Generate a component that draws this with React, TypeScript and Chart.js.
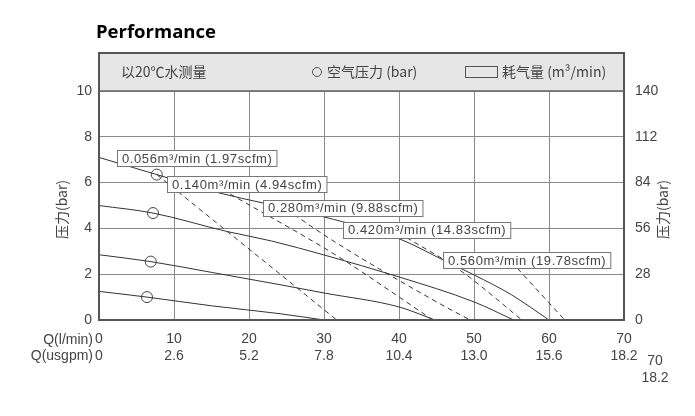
import React, { useEffect, useRef } from 'react';
import { Chart, registerables } from 'chart.js';

Chart.register(...registerables);

const FONT = '"Liberation Sans", Arial, sans-serif';
const CJK = '"Noto Sans CJK SC", "Liberation Sans", sans-serif';

// ---- axes ----
const flowLpmTicks = [0, 10, 20, 30, 40, 50, 60, 70];
const flowUsgpmTicks = ['0', '2.6', '5.2', '7.8', '10.4', '13.0', '15.6', '18.2'];
const pressureMax = 10;
const pressureStep = 2;
const headMax = 140;
const headStep = 28;

// ---- solid curves: discharge pressure at constant air pressure (x = l/min, y = bar) ----
const curveAir1 = [[0, 7.1], [7.7, 6.35], [16, 5.55], [22, 5.1], [30, 4.5], [40, 3.55], [45.9, 2.62], [50, 1.97], [55, 1.1], [60, 0]];
const curveAir2 = [[0, 5.0], [7.2, 4.67], [17, 3.87], [23, 3.45], [30, 2.84], [40, 1.88], [50, 0.79], [55.3, 0]];
const curveAir3 = [[0, 2.85], [6.9, 2.55], [15, 2.08], [24, 1.55], [30, 1.18], [40, 0.57], [44.8, 0]];
const curveAir4 = [[0, 1.25], [6.4, 1.0], [15, 0.62], [24, 0.28], [30, 0]];

// ---- air pressure markers (circles) ----
const airMarkers = [[7.7, 6.35], [7.2, 4.67], [6.9, 2.55], [6.4, 1.0]];

// ---- dashed curves: constant air consumption ----
const consumption056 = [[7.7, 6.35], [20, 3.1], [31.7, 0]];
const consumption140 = [[17.5, 5.5], [32, 2.75], [38, 1.45], [44.5, 0]];
const consumption280 = [[26, 4.6], [31.5, 3.4], [45.5, 0.7], [49.5, 0]];
const consumption420 = [[41, 3.6], [48.1, 2.18], [56.4, 0]];
const consumption560 = [[55.8, 2.25], [62.1, 0]];

// ---- consumption labels ----
const consumptionLabels = [
  '0.056m³/min (1.97scfm)',
  '0.140m³/min (4.94scfm)',
  '0.280m³/min (9.88scfm)',
  '0.420m³/min (14.83scfm)',
  '0.560m³/min (19.78scfm)',
];
const consumptionLabelAnchors = [[2.4, 7.07], [9.1, 5.94], [21.9, 4.91], [32.5, 3.95], [45.9, 2.6]];

const toPts = (arr: number[][]) => arr.map(([x, y]) => ({ x, y }));

const solid = (data: number[][]) => ({
  data: toPts(data),
  showLine: true,
  borderColor: '#333',
  borderWidth: 1,
  pointRadius: 0,
  cubicInterpolationMode: 'monotone',
  yAxisID: 'y',
});
const dashed = (data: number[][]) => ({
  data: toPts(data),
  showLine: true,
  borderColor: '#333',
  borderWidth: 1,
  borderDash: [5, 4],
  pointRadius: 0,
  cubicInterpolationMode: 'monotone',
  yAxisID: 'y',
});

const HEADER_TOP = 53;

const overlay = {
  id: 'overlay',
  beforeDraw(chart: any) {
    const { ctx, chartArea: a } = chart;
    ctx.save();
    ctx.fillStyle = '#e6e6e6';
    ctx.fillRect(a.left, HEADER_TOP, a.right - a.left, a.top - HEADER_TOP);
    ctx.restore();
  },
  afterDatasetsDraw(chart: any) {
    const { ctx } = chart;
    const xs = chart.scales.x;
    const ys = chart.scales.y;
    ctx.save();
    ctx.font = `13px ${FONT}`;
    (ctx as any).letterSpacing = '0.6px';
    ctx.textBaseline = 'middle';
    ctx.textAlign = 'left';
    consumptionLabels.forEach((t, i) => {
      const [ax, ay] = consumptionLabelAnchors[i];
      const px = Math.round(xs.getPixelForValue(ax)) + 0.5;
      const py = ys.getPixelForValue(ay);
      const w = ctx.measureText(t).width + 9;
      const h = 16;
      ctx.fillStyle = '#fff';
      ctx.fillRect(px, Math.round(py - h / 2) + 0.5, w, h);
      ctx.strokeStyle = '#777';
      ctx.lineWidth = 1;
      ctx.strokeRect(px, Math.round(py - h / 2) + 0.5, w, h);
      ctx.fillStyle = '#444';
      ctx.fillText(t, px + 4.5, py + 1);
    });
    ctx.restore();
  },
  afterDraw(chart: any) {
    const { ctx, chartArea: a } = chart;
    ctx.save();
    // frame
    ctx.strokeStyle = '#555';
    ctx.lineWidth = 2;
    ctx.strokeRect(a.left, HEADER_TOP, a.right - a.left, a.bottom - HEADER_TOP);
    ctx.lineWidth = 1.5;
    ctx.strokeStyle = '#666';
    ctx.beginPath();
    ctx.moveTo(a.left, a.top);
    ctx.lineTo(a.right, a.top);
    ctx.stroke();

    // header texts
    const hy = (HEADER_TOP + a.top) / 2;
    ctx.fillStyle = '#444';
    ctx.textBaseline = 'middle';
    ctx.textAlign = 'left';
    ctx.font = `14px ${CJK}`;
    ctx.fillText('以20℃水测量', a.left + 22, hy);
    ctx.strokeStyle = '#555';
    ctx.lineWidth = 1;
    ctx.beginPath();
    ctx.arc(a.left + 218, hy, 4.5, 0, Math.PI * 2);
    ctx.stroke();
    ctx.fillText('空气压力 (bar)', a.left + 228, hy);
    ctx.strokeRect(a.left + 366.5, hy - 5.5, 32, 11);
    ctx.fillText('耗气量 (m³/min)', a.left + 403, hy);

    // axis titles
    ctx.font = `14px ${CJK}`;
    ctx.fillStyle = '#444';
    ctx.textAlign = 'center';
    const cy = (a.top + a.bottom) / 2 + 4;
    ctx.save();
    ctx.translate(62, cy);
    ctx.rotate(-Math.PI / 2);
    ctx.fillText('压力(bar)', 0, 0);
    ctx.restore();
    ctx.save();
    ctx.translate(663, cy);
    ctx.rotate(-Math.PI / 2);
    ctx.fillText('压力(bar)', 0, 0);
    ctx.restore();

    // x row captions
    ctx.font = `14px ${FONT}`;
    ctx.textAlign = 'right';
    ctx.fillText('Q(l/min)', a.left - 6, a.bottom + 20);
    ctx.fillText('Q(usgpm)', a.left - 6, a.bottom + 36);

    // stray labels at right
    ctx.textAlign = 'center';
    ctx.fillText(String(flowLpmTicks[flowLpmTicks.length - 1]), 655, a.bottom + 41);
    ctx.fillText(flowUsgpmTicks[flowUsgpmTicks.length - 1], 655, a.bottom + 58);

    // title
    ctx.textAlign = 'left';
    ctx.fillStyle = '#000';
    ctx.font = `bold 18.5px "Open Sans", ${FONT}`;
    ctx.fillText('Performance', 96, 33);
    ctx.restore();
  },
};

export default function App() {
  const ref = useRef<HTMLCanvasElement | null>(null);
  useEffect(() => {
    if (!ref.current) return;
    const chart = new Chart(ref.current, {
      type: 'scatter',
      data: {
        datasets: [
          solid(curveAir1),
          solid(curveAir2),
          solid(curveAir3),
          solid(curveAir4),
          dashed(consumption056),
          dashed(consumption140),
          dashed(consumption280),
          dashed(consumption420),
          dashed(consumption560),
          {
            data: toPts(airMarkers),
            showLine: false,
            pointRadius: 5.5,
            pointBackgroundColor: '#fff',
            pointBorderColor: '#444',
            pointBorderWidth: 1,
            yAxisID: 'y',
          } as any,
        ],
      },
      options: {
        responsive: false,
        animation: false,
        devicePixelRatio: 1,
        layout: { padding: { top: 91, left: 0, right: 0, bottom: 0 } },
        plugins: { legend: { display: false }, tooltip: { enabled: false }, title: { display: false } },
        scales: {
          x: {
            type: 'linear',
            min: 0,
            max: 70,
            afterFit: (s: any) => { s.height = 96; },
            afterBuildTicks: (s: any) => { s.ticks = flowLpmTicks.map((v) => ({ value: v })); },
            ticks: {
              padding: 11,
              color: '#444',
              font: { family: FONT, size: 14 },
              maxRotation: 0,
              autoSkip: false,
              callback: (v: any) => {
                const i = flowLpmTicks.indexOf(Number(v));
                return [String(v), flowUsgpmTicks[i] ?? ''];
              },
            },
            grid: { color: '#8a8a8a', lineWidth: 1, drawTicks: false, tickLength: 0 },
            border: { display: true, color: '#555', width: 2 },
          },
          y: {
            position: 'left',
            min: 0,
            max: pressureMax,
            afterFit: (s: any) => { s.width = 99; },
            ticks: { stepSize: pressureStep, padding: 7, color: '#444', font: { family: FONT, size: 14 } },
            grid: { color: '#8a8a8a', lineWidth: 1, drawTicks: false, tickLength: 0 },
            border: { display: true, color: '#555', width: 2 },
          },
          y2: {
            position: 'right',
            min: 0,
            max: headMax,
            afterFit: (s: any) => { s.width = 71; },
            ticks: { stepSize: headStep, padding: 11, color: '#444', font: { family: FONT, size: 14 } },
            grid: { display: false, drawOnChartArea: false, drawTicks: false },
            border: { display: true, color: '#555', width: 2 },
          },
        },
      },
      plugins: [overlay],
    } as any);
    return () => chart.destroy();
  }, []);
  return (
    <div style={{ position: 'fixed', left: 0, top: 0, width: 695, height: 416, background: '#fff' }}>
      <canvas ref={ref} width={695} height={416} style={{ display: 'block', width: 695, height: 416 }} />
    </div>
  );
}
